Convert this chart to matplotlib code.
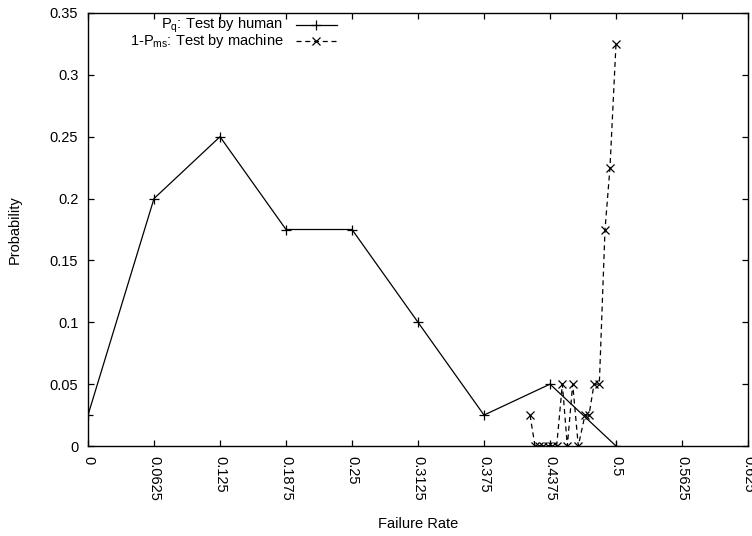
import matplotlib
matplotlib.use("Agg")
import matplotlib.pyplot as plt
from matplotlib.lines import Line2D

plt.rcParams['font.family'] = ['Liberation Sans', 'DejaVu Sans']
plt.rcParams['mathtext.fontset'] = 'custom'
plt.rcParams['mathtext.rm'] = 'Liberation Sans'
plt.rcParams['mathtext.it'] = 'Liberation Sans'

human_x = [0.0, 0.0625, 0.125, 0.1875, 0.25, 0.3125, 0.375, 0.4375, 0.5]
human_y = [0.025, 0.2, 0.25, 0.175, 0.175, 0.1, 0.025, 0.05, 0.0]

machine_x = [0.4186, 0.4233, 0.4271, 0.4311, 0.4353, 0.4390, 0.4438, 0.4492, 0.4539,
             0.4590, 0.4643, 0.4706, 0.4744, 0.4792, 0.4842, 0.4896, 0.4943, 0.5]
machine_y = [0.025, 0.0, 0.0, 0.0, 0.0, 0.0, 0.0, 0.05, 0.0,
             0.05, 0.0, 0.025, 0.025, 0.05, 0.05, 0.175, 0.225, 0.325]

x_ticks = [0, 0.0625, 0.125, 0.1875, 0.25, 0.3125, 0.375, 0.4375, 0.5, 0.5625, 0.625]
x_tick_labels = ['0', '0.0625', '0.125', '0.1875', '0.25', '0.3125', '0.375', '0.4375', '0.5', '0.5625', '0.625']
y_ticks = [0, 0.05, 0.1, 0.15, 0.2, 0.25, 0.3, 0.35]
y_tick_labels = ['0', '0.05', '0.1', '0.15', '0.2', '0.25', '0.3', '0.35']

label_human = r'P$_\mathregular{q}$: Test by human'
label_machine = r'1-P$_\mathregular{ms}$: Test by machine'

FS = 10.5

fig = plt.figure(figsize=(7.52, 5.36), dpi=100)
ax = fig.add_axes([88/752, 90/536, 660/752, 433/536])

dash = (0, (4, 3))
ax.plot(human_x, human_y, color='black', lw=0.9, marker='+', ms=7, mew=0.9)
ax.plot(machine_x, machine_y, color='black', lw=0.9, ls=dash, marker='x', ms=6, mew=0.9)

ax.set_xlim(0, 0.625)
ax.set_ylim(0, 0.35)
ax.set_xticks(x_ticks)
ax.set_xticklabels(x_tick_labels, rotation=-90, ha='center', va='top')
ax.set_yticks(y_ticks)
ax.set_yticklabels(y_tick_labels)
ax.tick_params(direction='in', length=4, width=0.9, labelsize=FS, pad=7,
               top=True, right=True)
for s in ax.spines.values():
    s.set_linewidth(1.0)

ax.set_xlabel('Failure Rate', fontsize=FS, labelpad=12)
ax.set_ylabel('Probability', fontsize=FS, labelpad=20)

# legend (gnuplot style: right-aligned text, sample to the right)
rows = [(label_human, '-', '+', 7), (label_machine, dash, 'x', 6)]
ypos = [0.972, 0.935]
for (lab, ls, mk, ms), yy in zip(rows, ypos):
    ax.text(0.296, yy, lab, transform=ax.transAxes, ha='right', va='center', fontsize=FS)
    ax.add_line(Line2D([0.315, 0.377], [yy, yy], transform=ax.transAxes,
                       color='black', lw=0.9, ls=ls))
    ax.add_line(Line2D([0.346], [yy], transform=ax.transAxes, color='black',
                       marker=mk, ms=ms, mew=0.9, ls='none'))

fig.savefig('out.png', dpi=100)
